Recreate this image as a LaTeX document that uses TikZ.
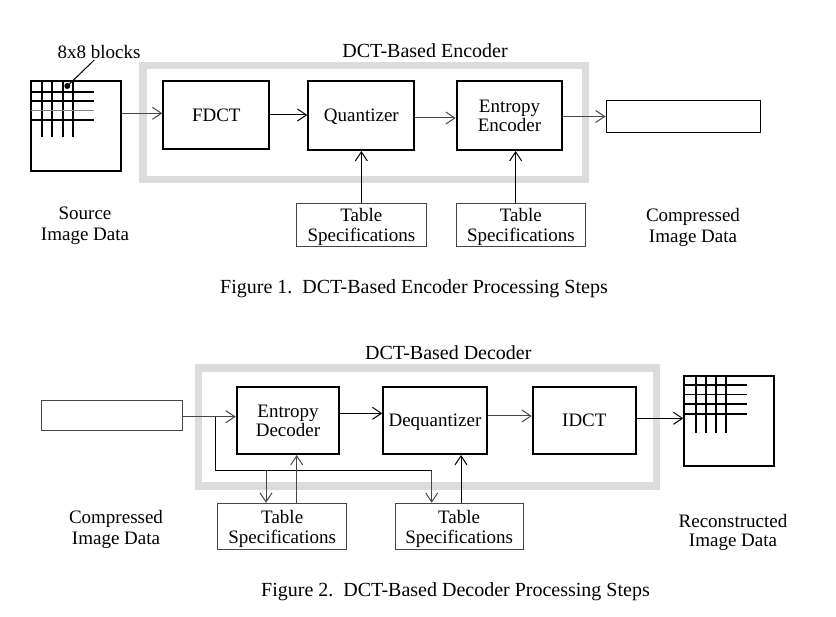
\documentclass[tikz,border=0pt]{standalone}
\usepackage{fontspec}
\setmainfont{Liberation Serif}
\usetikzlibrary{arrows.meta,calc}
\definecolor{framegray}{RGB}{220,220,220}
\definecolor{thingray}{RGB}{70,70,70}
\begin{document}
\begin{tikzpicture}[x=1pt,y=-1pt,
  blk/.style={draw=black,line width=2pt,inner sep=0pt,align=center,text depth=0pt,font=\fontsize{19}{19}\selectfont},
  thinbox/.style={draw=thingray,line width=1pt,inner sep=0pt,align=center,text depth=0pt,font=\fontsize{19}{20}\selectfont},
  imgbox/.style={draw=black,line width=2pt,inner sep=0pt,minimum width=90pt,minimum height=90pt},
  frame/.style={draw=framegray,line width=7.5pt,inner sep=0pt},
  arr/.style={draw=thingray,line width=1pt,-{Straight Barb[length=9pt,width=12pt]}},
  conn/.style={draw=thingray,line width=1pt},
  gridl/.style={draw=black,line width=2pt},
  lbl/.style={inner sep=0pt,align=center,font=\fontsize{19}{21}\selectfont},
  captxt/.style={inner sep=0pt,font=\fontsize{20}{22}\selectfont}]
\useasboundingbox (0,0) rectangle (836,617);
\fill[white] (0,0) rectangle (836,617);

% ===== Figure 1 =====
\node[frame,minimum width=442.5pt,minimum height=114pt] (encframe) at (364.25,122.7) {};
\node[captxt] (enctitle) at (425,51) {DCT-Based Encoder};

\node[imgbox] (src) at (76,126) {};
\foreach \x in {42.3,52.3,62.7,73.3} \draw[gridl] (\x,81) -- (\x,137.3);
\foreach \y in {91.7,101,120} \draw[gridl] (31,\y) -- (94,\y);
\draw[conn,draw=gray] (31,111) -- (94,111);
\fill (67.3,86) circle (3pt) coordinate (dot);
\node[lbl] (blocks) at (99,52.5) {8x8 blocks};
\coordinate (lead) at (94.3,60);
\draw[conn,draw=black] (lead) -- (dot);

\node[blk,minimum width=106pt,minimum height=68.6pt] (fdct) at (216.3,115) {FDCT};
\node[blk,minimum width=106pt,minimum height=69pt] (quant) at (361.3,115.5) {Quantizer};
\node[blk,minimum width=105.6pt,minimum height=69pt] (ent) at (509.5,115.5) {Entropy\\Encoder};
\node[thinbox,draw=black,minimum width=154.7pt,minimum height=31.6pt] (comp) at (683.35,116.5) {};
\node[thinbox,minimum width=129.3pt,minimum height=43.4pt] (ts1) at (361.35,225) {Table\\Specifications};
\node[thinbox,minimum width=128.3pt,minimum height=43.4pt] (ts2) at (520.85,225) {Table\\Specifications};

\draw[arr] (src.east |- 0,113.3) -- (fdct.west |- 0,113.3);
\draw[arr,draw=black] (fdct.east) -- (quant.west |- fdct.east);
\draw[arr] (quant.east |- 0,118) -- (ent.west |- 0,118);
\draw[arr] (ent.east |- 0,116.5) -- (comp.west);
\draw[arr,draw=black] (ts1.north) -- (ts1.north |- quant.south);
\coordinate (u2) at ($(ts2.north)+(-5.2,0)$);
\draw[arr,draw=black] (u2) -- (u2 |- ent.south);

\node[lbl] (srclbl) at (85,225.6) {Source\\Image Data};
\node[lbl] (complbl) at (693,227) {Compressed\\Image Data};
\node[captxt] (cap1) at (414,288.5) {Figure 1.\ \ DCT-Based Encoder Processing Steps};

% ===== Figure 2 =====
\node[frame,minimum width=458.2pt,minimum height=117.8pt] (decframe) at (427.4,426.9) {};
\node[captxt] (dectitle) at (448.3,353) {DCT-Based Decoder};

\node[thinbox,minimum width=141.3pt,minimum height=30.3pt] (dcomp) at (111.65,415.85) {};
\node[blk,minimum width=102.6pt,minimum height=67.3pt] (edec) at (288,420.35) {Entropy\\Decoder};
\node[blk,minimum width=103.4pt,minimum height=67.3pt] (deq) at (435,420.35) {Dequantizer};
\node[blk,minimum width=103.3pt,minimum height=67.3pt] (idct) at (584.35,420.35) {IDCT};
\node[imgbox] (rec) at (729.3,421) {};
\foreach \x in {695.7,706,716,726} \draw[gridl] (\x,376) -- (\x,433.3);
\foreach \y in {385,404,414.3} \draw[gridl] (684.3,\y) -- (746.7,\y);
\draw[conn,draw=black] (684.3,395) -- (746.7,395);

\node[thinbox,minimum width=129pt,minimum height=46.7pt] (tsA) at (282.2,526.65) {Table\\Specifications};
\node[thinbox,minimum width=128.3pt,minimum height=46.7pt] (tsB) at (459.15,526.65) {Table\\Specifications};

\draw[arr] (dcomp.east |- 0,416.7) -- (edec.west |- 0,416.7);
\draw[arr,draw=black] (edec.east |- 0,413.3) -- (deq.west |- 0,413.3);
\draw[arr] (deq.east |- 0,416) -- (idct.west |- 0,416);
\draw[arr,draw=black] (idct.east |- 0,418.3) -- (rec.west |- 0,418.3);

\coordinate (br) at (215.7,416.7);
\coordinate (dA) at (266,470.7);
\coordinate (dB) at (431.7,470.7);
\draw[conn,draw=black] (br) |- (dB);
\draw[arr] (dA) -- (dA |- tsA.north);
\draw[arr] (dB) -- (dB |- tsB.north);
\coordinate (uA) at (296.7,503.3);
\coordinate (uB) at (461,503.3);
\draw[arr] (uA) -- (uA |- edec.south);
\draw[arr,draw=black] (uB) -- (uB |- deq.south);

\node[lbl] (dcomplbl) at (116,529) {Compressed\\Image Data};
\node[lbl,font=\fontsize{19}{19}\selectfont] (reclbl) at (733,532) {Reconstructed\\Image Data};
\node[captxt] (cap2) at (455.5,591.5) {Figure 2.\ \ DCT-Based Decoder Processing Steps};
\end{tikzpicture}
\end{document}
